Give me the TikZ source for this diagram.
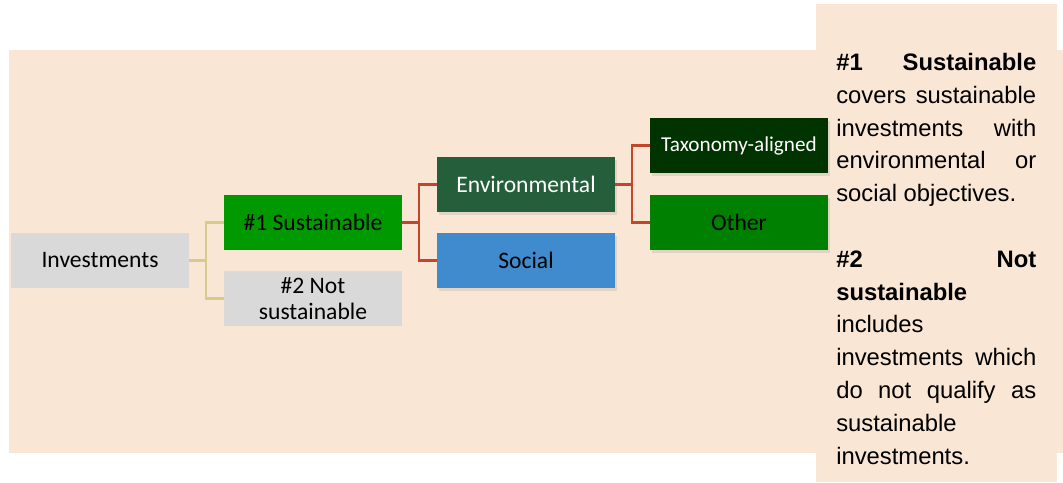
\documentclass[tikz,border=0pt]{standalone}
\usepackage{fontspec}
\setmainfont{Liberation Sans}
\newfontfamily\boxfont{Carlito}
\usetikzlibrary{calc,shadows}

\definecolor{paper}{HTML}{F9E6D5}
\definecolor{lightgrey}{HTML}{D9D9D9}
\definecolor{susgreen}{HTML}{009900}
\definecolor{envgreen}{HTML}{255E3B}
\definecolor{socblue}{HTML}{3F8BCE}
\definecolor{taxgreen}{HTML}{003300}
\definecolor{othgreen}{HTML}{008000}
\definecolor{oliveline}{HTML}{D5CB8B}
\definecolor{redline}{HTML}{C4462A}

\begin{document}
\begin{tikzpicture}[x=0.75pt, y=-0.75pt,
  box/.style={minimum width=133.5pt, minimum height=41.25pt, inner sep=1pt,
    align=center, font=\boxfont\fontsize{17.7}{20}\selectfont},
  shadowbox/.style={box, drop shadow={opacity=0.18, shadow xshift=1.5pt, shadow yshift=-2.5pt}},
  invlink/.style={draw=oliveline, line width=1.6pt},
  envlink/.style={draw=redline, line width=1.6pt}]

% Background panels
\useasboundingbox (0,0) rectangle (1063,482);
\fill[paper] (9,50) rectangle (1063,453);
\fill[paper] (816,4) rectangle (1057,482);

% Tree boxes
\node[box, fill=lightgrey] (inv) at (100,260.5) {Investments};
\node[box, fill=susgreen] (sus) at (313,222.5) {\#1 Sustainable};
\node[box, fill=lightgrey] (nsus) at (313,298.5) {\#2 Not\\sustainable};
\node[shadowbox, fill=envgreen, text=white] (env) at (526,184.5) {Environmental};
\node[shadowbox, fill=socblue] (soc) at (526,260.5) {Social};
\node[shadowbox, fill=taxgreen, text=white, font=\boxfont\fontsize{15.9}{18}\selectfont] (tax) at (739,145.5) {Taxonomy-aligned};
\node[shadowbox, fill=othgreen] (oth) at (739,222.5) {Other};

% Connectors
\draw[invlink] (inv.east) -- ++(17,0) |- (sus.west);
\draw[invlink] (inv.east) -- ++(17,0) |- (nsus.west);
\draw[envlink] (sus.east) -- ++(17,0) |- (env.west);
\draw[envlink] (sus.east) -- ++(17,0) |- (soc.west);
\draw[envlink] (env.east) -- ++(17,0) |- (tax.west);
\draw[envlink] (env.east) -- ++(17,0) |- (oth.west);

% Explanatory text
\node[anchor=north west, inner sep=0pt, text width=150pt, align=justify,
  font=\fontsize{17.85}{24.6}\selectfont] (notes) at (836,53)
{\textbf{\#1 Sustainable}\linebreak covers sustainable\linebreak investments with\linebreak environmental or\linebreak social objectives.\par
\mbox{}\par
\textbf{\#2 Not}\linebreak \textbf{sustainable}\newline includes\newline investments which\linebreak do not qualify as\linebreak sustainable\newline investments.};

\end{tikzpicture}
\end{document}
